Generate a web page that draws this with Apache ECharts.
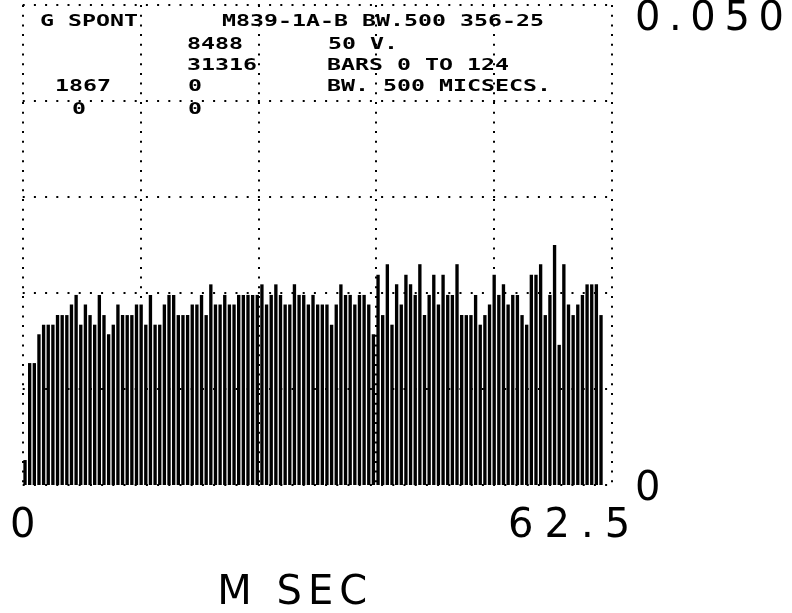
<!DOCTYPE html>
<html>
<head>
<meta charset="utf-8">
<script src="https://cdn.jsdelivr.net/npm/echarts@6/dist/echarts.min.js"></script>
<style>
  html, body { margin: 0; padding: 0; background: #ffffff; }
  #chart { width: 792px; height: 613px; }
</style>
</head>
<body>
<div id="chart"></div>
<script>
// Interval histogram: 125 bins of 500 microseconds (bars 0 to 124)
const binWidthMs = 0.5;

// Fraction of intervals falling in each bin
const fractions = [
  0.0026, 0.0127, 0.0127, 0.0157, 0.0167, 0.0167, 0.0167, 0.0177, 0.0177, 0.0177,
  0.0188, 0.0198, 0.0167, 0.0188, 0.0177, 0.0167, 0.0198, 0.0177, 0.0157, 0.0167,
  0.0188, 0.0177, 0.0177, 0.0177, 0.0188, 0.0188, 0.0167, 0.0198, 0.0167, 0.0167,
  0.0188, 0.0198, 0.0198, 0.0177, 0.0177, 0.0177, 0.0188, 0.0188, 0.0198, 0.0177,
  0.0209, 0.0188, 0.0188, 0.0198, 0.0188, 0.0188, 0.0198, 0.0198, 0.0198, 0.0198,
  0.0198, 0.0209, 0.0188, 0.0198, 0.0209, 0.0198, 0.0188, 0.0188, 0.0209, 0.0198,
  0.0198, 0.0188, 0.0198, 0.0188, 0.0188, 0.0188, 0.0167, 0.0188, 0.0209, 0.0198,
  0.0198, 0.0188, 0.0198, 0.0198, 0.0188, 0.0157, 0.0219, 0.0177, 0.0230, 0.0167,
  0.0209, 0.0188, 0.0219, 0.0209, 0.0198, 0.0230, 0.0177, 0.0198, 0.0219, 0.0188,
  0.0219, 0.0198, 0.0198, 0.0230, 0.0177, 0.0177, 0.0177, 0.0198, 0.0167, 0.0177,
  0.0188, 0.0219, 0.0198, 0.0209, 0.0188, 0.0198, 0.0198, 0.0177, 0.0167, 0.0219,
  0.0219, 0.0230, 0.0177, 0.0198, 0.0250, 0.0146, 0.0230, 0.0188, 0.0177, 0.0188,
  0.0198, 0.0209, 0.0209, 0.0209, 0.0177
];

// Axis ranges and labelled ticks
const xMaxMs = 63.4;
const xGridStep = 12.68;
const xTickValues = [0, 62.5];
const xTickLabels = ['0', '62.5'];
const yMax = 0.05;
const yGridStep = 0.01;
const yTickValues = [0, 0.05];
const yTickLabels = ['0', '0.050'];
const xAxisName = 'M SEC';

// Header block printed inside the top row of the grid
const headerTexts = [
  { text: 'G SPONT', col: 40, row: 0 },
  { text: 'M839-1A-B BW.500 356-25', col: 222, row: 0 },
  { text: '8488', col: 187, row: 1 },
  { text: '50 V.', col: 328, row: 1 },
  { text: '31316', col: 187, row: 2 },
  { text: 'BARS 0 TO 124', col: 327, row: 2 },
  { text: '1867', col: 55, row: 3 },
  { text: '0', col: 188, row: 3 },
  { text: 'BW. 500 MICSECS.', col: 327, row: 3 },
  { text: '0', col: 72, row: 4 },
  { text: '0', col: 188, row: 4 }
];
const headerRowY = [22, 45, 66, 87, 110];

const bigFont = 'DejaVu Sans';
const bigSize = 40;

// Spread the characters of a big label apart using rich-text tokens
function spaced(str, lastStyle) {
  const chars = str.split('');
  return chars.map((ch, i) => {
    const style = (i === chars.length - 1 && lastStyle) ? lastStyle : 'c';
    return '{' + style + '|' + ch + '}';
  }).join('');
}
function bigRich(gap, extra) {
  const base = { fontFamily: bigFont, fontSize: bigSize, color: '#000', padding: [0, gap, 0, gap] };
  const out = { c: base };
  Object.keys(extra || {}).forEach(k => { out[k] = Object.assign({}, base, extra[k]); });
  return out;
}

const chart = echarts.init(document.getElementById('chart'));

const dotH = { color: '#000', width: 2, type: [2, 9.2] };
const dotV = { color: '#000', width: 2, type: [2, 7.7] };

chart.setOption({
  animation: false,
  backgroundColor: '#ffffff',
  grid: {
    left: 22.7, right: 180.3, top: 5, bottom: 128,
    containLabel: false, outerBoundsMode: 'none'
  },
  xAxis: [
    {
      type: 'value', min: 0, max: xMaxMs, interval: xGridStep,
      axisLine: { show: false }, axisTick: { show: false }, axisLabel: { show: false },
      splitLine: { show: true, lineStyle: dotV }
    },
    {
      type: 'value', min: 0, max: xMaxMs, interval: xTickValues[1] - xTickValues[0],
      position: 'bottom',
      axisLine: { show: false }, axisTick: { show: false }, splitLine: { show: false },
      axisLabel: {
        margin: 22, showMaxLabel: false,
        formatter: function (v) {
          const k = xTickValues.findIndex(t => Math.abs(t - v) < 1e-6);
          if (k < 0) return '';
          return k === 1 ? spaced(xTickLabels[k], 'shift') : spaced(xTickLabels[k]);
        },
        rich: bigRich(5.5, { shift: { padding: [0, 74, 0, 5.5] } })
      },
      name: spaced(xAxisName, 'shift'),
      nameLocation: 'middle',
      nameGap: 89,
      nameTextStyle: { rich: bigRich(3, { shift: { padding: [0, 53, 0, 3] } }) }
    }
  ],
  yAxis: {
    type: 'value', min: 0, max: yMax, interval: yGridStep, position: 'right',
    axisLine: { show: false }, axisTick: { show: false },
    splitLine: { show: true, lineStyle: dotH },
    axisLabel: {
      margin: 19, align: 'left',
      formatter: function (v) {
        const k = yTickValues.findIndex(t => Math.abs(t - v) < 1e-9);
        if (k < 0) return '';
        return k === 1 ? spaced(yTickLabels[k]).replace(/\{c\|/g, '{low|') : spaced(yTickLabels[k]);
      },
      rich: bigRich(4.3, {
        c: { padding: [10, 4.3, 0, 4.3] },
        low: { padding: [30, 4.3, 0, 4.3] }
      })
    }
  },
  graphic: headerTexts.map(h => ({
    type: 'text',
    x: h.col, y: headerRowY[h.row],
    scaleX: 1.55,
    z: 10,
    style: {
      text: h.text,
      fontFamily: 'DejaVu Sans Mono', fontWeight: 'bold', fontSize: 15,
      fill: '#000', textVerticalAlign: 'middle', textAlign: 'left'
    }
  })),
  series: [{
    type: 'custom',
    xAxisIndex: 0,
    data: fractions.map((v, i) => [i * binWidthMs, v]),
    renderItem: function (params, api) {
      const t0 = api.value(0);
      const v = api.value(1);
      const topLeft = api.coord([t0 + binWidthMs * 0.14, v]);
      const bottomRight = api.coord([t0 + binWidthMs * 0.86, 0]);
      return {
        type: 'rect',
        shape: {
          x: topLeft[0], y: topLeft[1],
          width: bottomRight[0] - topLeft[0],
          height: bottomRight[1] - topLeft[1]
        },
        style: { fill: '#000' }
      };
    }
  }]
});
</script>
</body>
</html>
